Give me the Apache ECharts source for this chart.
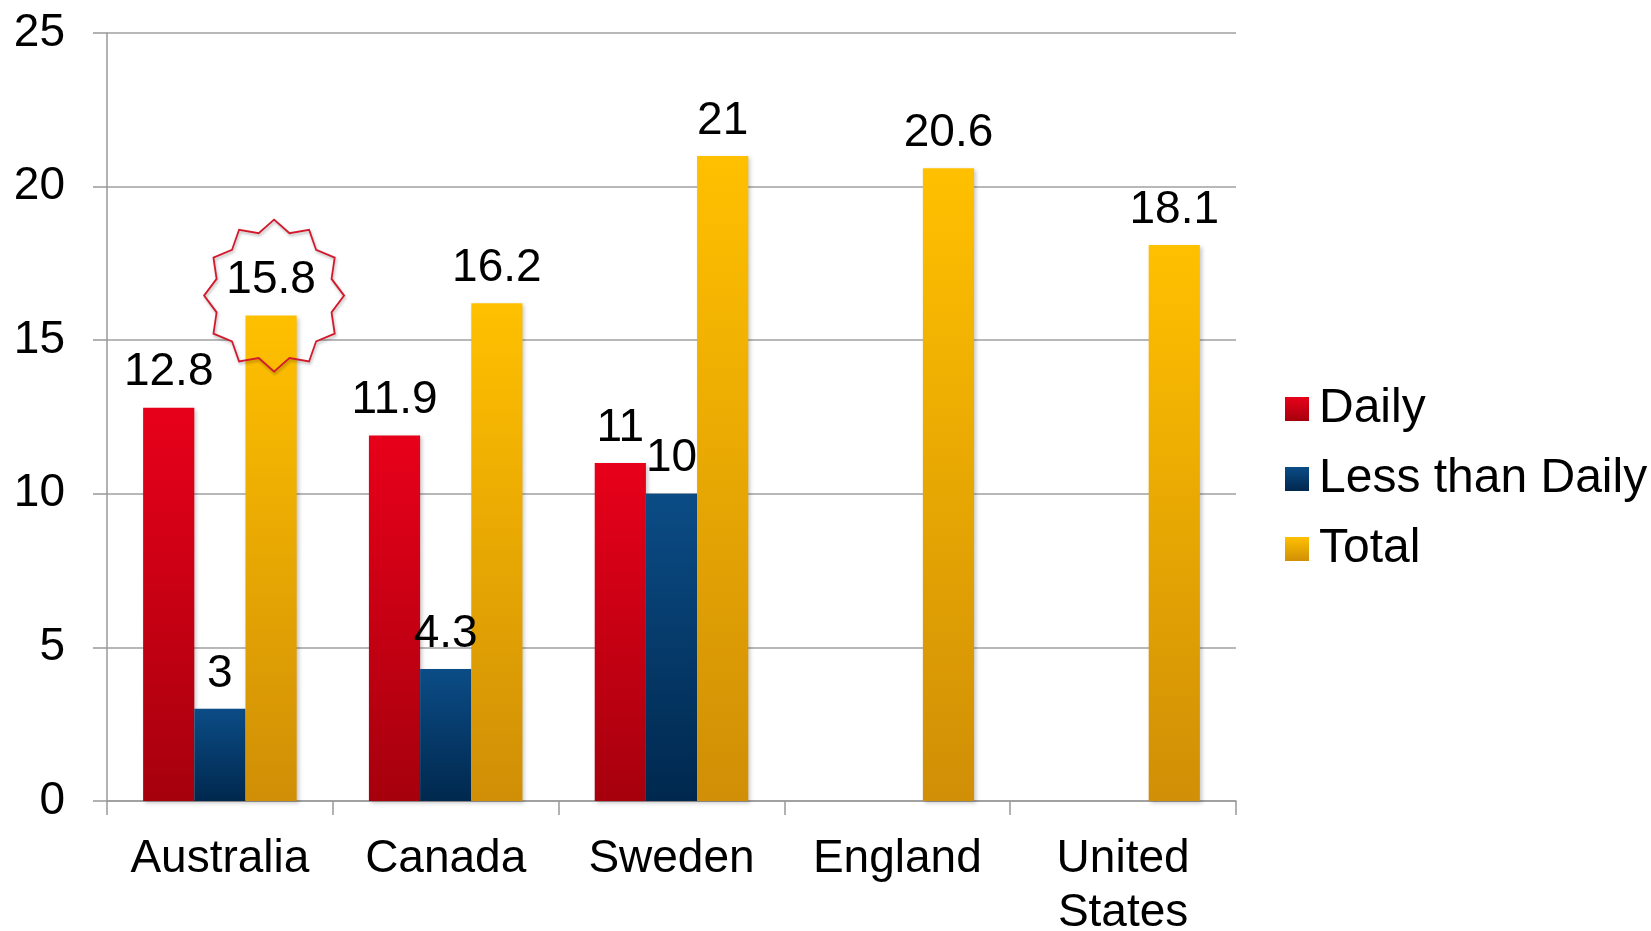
<!DOCTYPE html>
<html>
<head>
<meta charset="utf-8">
<style>
  html, body { margin: 0; padding: 0; background: #fff; }
  #chart { width: 1651px; height: 931px; }
</style>
<script src="https://cdn.jsdelivr.net/npm/echarts@6/dist/echarts.min.js"></script>
</head>
<body>
<div id="chart"></div>
<script>
// Smoking prevalence by country (%)
const categories = ['Australia', 'Canada', 'Sweden', 'England', 'United\nStates'];
const daily = [12.8, 11.9, 11, null, null];
const lessThanDaily = [3, 4.3, 10, null, null];
const total = [15.8, 16.2, 21, 20.6, 18.1];
const yMin = 0, yMax = 25, yStep = 5;

const FONT = '"Liberation Sans", Arial, sans-serif';

function vGrad(top, bottom) {
  return new echarts.graphic.LinearGradient(0, 0, 0, 1, [
    { offset: 0, color: top },
    { offset: 1, color: bottom }
  ]);
}

const barShadow = {
  shadowBlur: 4,
  shadowColor: 'rgba(0,0,0,0.22)',
  shadowOffsetX: 2,
  shadowOffsetY: 2
};

const valueLabel = {
  show: true,
  position: 'top',
  distance: 12,
  color: '#000',
  fontFamily: FONT,
  fontSize: 46,
  lineHeight: 46
};

const chart = echarts.init(document.getElementById('chart'));

chart.setOption({
  animation: false,
  backgroundColor: '#fff',
  textStyle: { fontFamily: FONT },
  grid: { left: 107, right: 415, top: 33, bottom: 130, containLabel: false, outerBoundsMode: 'none' },
  legend: {
    orient: 'vertical',
    left: 1280,
    top: 380,
    icon: 'rect',
    itemWidth: 24,
    itemHeight: 24,
    itemGap: 22,
    textStyle: {
      color: '#000',
      fontFamily: FONT,
      fontSize: 48,
      lineHeight: 46,
      padding: [0, 0, 0, 5]
    },
    data: ['Daily', 'Less than Daily', 'Total']
  },
  xAxis: {
    type: 'category',
    data: categories,
    axisLine: { show: true, lineStyle: { color: '#999', width: 1.5 } },
    axisTick: { show: true, length: 14, lineStyle: { color: '#999', width: 1.5 } },
    axisLabel: {
      color: '#000',
      fontFamily: FONT,
      fontSize: 46,
      lineHeight: 54,
      margin: 31,
      interval: 0
    }
  },
  yAxis: {
    type: 'value',
    min: yMin,
    max: yMax,
    interval: yStep,
    axisLine: { show: true, lineStyle: { color: '#999', width: 1.5 } },
    axisTick: { show: true, length: 14, inside: false, lineStyle: { color: '#999', width: 1.5 } },
    splitLine: { show: true, lineStyle: { color: '#a0a0a0', width: 1.5 } },
    axisLabel: {
      color: '#000',
      fontFamily: FONT,
      fontSize: 46,
      margin: 42
    }
  },
  series: [
    {
      name: 'Daily',
      type: 'bar',
      data: daily,
      barGap: '0%',
      barCategoryGap: '32%',
      itemStyle: Object.assign({ color: vGrad('#e8001a', '#a6000d') }, barShadow),
      label: valueLabel
    },
    {
      name: 'Less than Daily',
      type: 'bar',
      data: lessThanDaily,
      itemStyle: Object.assign({ color: vGrad('#0b4c86', '#00284e') }, barShadow),
      label: valueLabel
    },
    {
      name: 'Total',
      type: 'bar',
      data: total,
      itemStyle: Object.assign({ color: vGrad('#ffc000', '#d08f06') }, barShadow),
      label: valueLabel
    }
  ]
});

// Starburst callout around the Australia total, placed from the bar's own layout
function starPoints(cx, cy, rx, ry, inner, n) {
  const pts = [];
  for (let i = 0; i < n * 2; i++) {
    const a = -Math.PI / 2 + i * Math.PI / n;
    const k = i % 2 === 0 ? 1 : inner;
    pts.push([cx + Math.cos(a) * rx * k, cy + Math.sin(a) * ry * k]);
  }
  return pts;
}

const totalLayout = chart.getModel().getSeriesByIndex(2).getData().getItemLayout(0);
const barTop = Math.min(totalLayout.y, totalLayout.y + totalLayout.height);
const starCx = totalLayout.x + totalLayout.width / 2 + 3;
const starCy = barTop - 20;
const pts = starPoints(starCx, starCy, 70, 76, 0.85, 12);

chart.setOption({
  graphic: [
    {
      type: 'polygon',
      z: 1,
      silent: true,
      shape: { points: pts },
      style: { fill: '#fff', stroke: 'none' }
    },
    {
      type: 'polygon',
      z: 3,
      silent: true,
      shape: { points: pts },
      style: {
        fill: 'none',
        stroke: '#d3192c',
        lineWidth: 1.8,
        shadowBlur: 3,
        shadowColor: 'rgba(0,0,0,0.3)',
        shadowOffsetX: 1,
        shadowOffsetY: 2
      }
    }
  ]
});
</script>
</body>
</html>
